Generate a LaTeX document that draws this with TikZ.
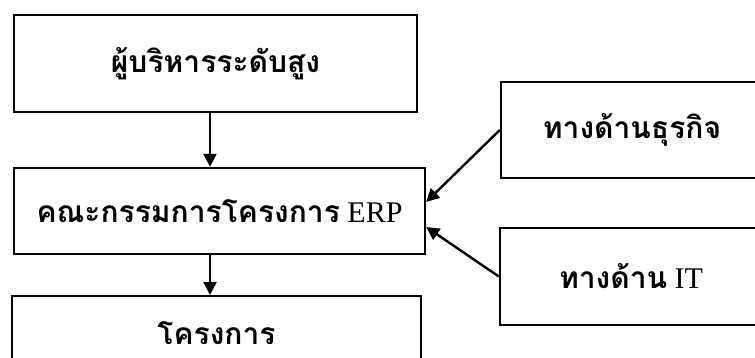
\documentclass[tikz,border=0pt]{standalone}
\usepackage{fontspec}
\setmainfont{Liberation Serif}
\newfontfamily\thaifont[Script=Thai]{Loma}
\usetikzlibrary{arrows.meta}
\begin{document}
\begin{tikzpicture}[x=1pt,y=-1pt,
  box/.style={draw=black,line width=2.4pt,fill=white,inner sep=0pt,minimum width=#1},
  label text/.style={inner sep=0pt},
  arr/.style={line width=2.4pt,-{Triangle[length=13pt,width=13pt]}}]
\newcommand\thtext[1]{{\thaifont\bfseries\fontsize{30}{34}\selectfont #1}}
\newcommand\lattext[1]{{\rmfamily\fontsize{30}{34}\selectfont #1}}
\useasboundingbox (0,0) rectangle (755,358);
\clip (0,0) rectangle (755,358);
% left column
\node[box=403pt,minimum height=97pt] (top) at (215.5,63.5) {\thtext{ผู้บริหารระดับสูง}};
\node[box=411pt,minimum height=86pt] (cmt) at (219.5,211) {\thtext{คณะกรรมการโครงการ}\lattext{ ERP}};
\node[box=409pt,anchor=north,minimum height=95pt] (prj) at (216.5,295) {};
\node[label text] (prjname) at (216.5,333) {\thtext{โครงการ}};
% right column
\node[box=262pt,minimum height=96pt] (biz) at (632,130) {\thtext{ทางด้านธุรกิจ}};
\node[box=262pt,minimum height=97pt] (it) at (631,276.5) {\thtext{ทางด้าน}\lattext{ IT}};
% connectors
\coordinate (axis) at (210,0);
\draw[arr] (top.south -| axis) -- (cmt.north -| axis);
\draw[arr] (cmt.south -| axis) -- (prj.north -| axis);
\draw[arr] (biz.west) -- ([yshift=9pt]cmt.east);
\draw[arr] (it.west) -- ([yshift=-16pt]cmt.east);
\end{tikzpicture}
\end{document}
